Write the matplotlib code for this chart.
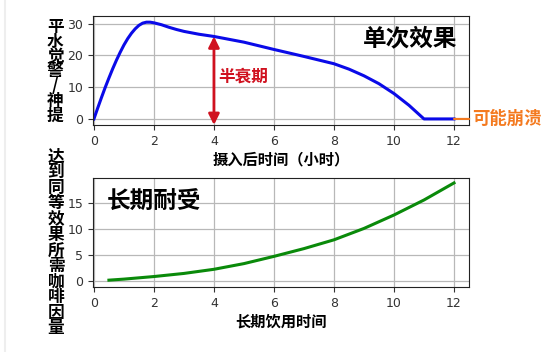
import matplotlib
matplotlib.use("Agg")
import matplotlib.pyplot as plt
from matplotlib.lines import Line2D

plt.rcParams['font.family'] = ['DejaVu Sans', 'Noto Sans CJK SC']
CJK = ['Noto Sans CJK SC', 'DejaVu Sans']

# single dose effect (alertness over time)
hours = [0, 0.125, 0.25, 0.375, 0.5, 0.625, 0.75, 0.875, 1.0, 1.125, 1.25, 1.375,
         1.5, 1.625, 1.75, 1.875, 2.0, 2.25, 2.5, 2.75, 3, 3.5, 4,
         5, 6, 7, 8, 8.5, 9, 9.5, 10, 10.5, 11, 12]
alert = [0, 3.4, 6.7, 9.9, 12.9, 15.8, 18.5, 21.0, 23.3, 25.3, 27.0, 28.4,
         29.5, 30.2, 30.5, 30.5, 30.3, 29.7, 28.9, 28.2, 27.6, 26.7, 26.0,
         24.2, 21.9, 19.7, 17.4, 15.7, 13.6, 11.1, 8.0, 4.3, 0, 0]

# long term tolerance
use_time = [0.5, 1, 2, 3, 4, 5, 6, 7, 8, 9, 10, 11, 12]
dose = [0.1, 0.3, 0.8, 1.4, 2.2, 3.3, 4.7, 6.2, 7.9, 10.1, 12.7, 15.6, 18.9]

half_life_x = 4
half_life_top = 26

red = '#d0111f'
orange = '#f47a1f'

fig = plt.figure(figsize=(5.57, 3.52), dpi=100)
ax1 = fig.add_axes([0.167, 0.645, 0.675, 0.31])
ax2 = fig.add_axes([0.167, 0.185, 0.675, 0.31])

for ax in (ax1, ax2):
    ax.grid(True, color='#b8b8b8', lw=0.9)
    ax.set_axisbelow(True)
    ax.set_xlim(-0.03, 12.5)
    ax.set_xticks([0, 2, 4, 6, 8, 10, 12])
    ax.tick_params(labelsize=9, colors='#333333', length=3.5)
    for s in ax.spines.values():
        s.set_color('#222222')

# top panel
ax1.plot(hours, alert, color='#0a0ae8', lw=2.2)
ax1.set_ylim(-1.9, 32.5)
ax1.set_yticks([0, 10, 20, 30])
ax1.annotate('', xy=(half_life_x, half_life_top), xytext=(half_life_x, -1.9),
             arrowprops=dict(arrowstyle='<|-|>', color=red, lw=2, mutation_scale=16,
                             shrinkA=0, shrinkB=0))
ax1.text(4.15, 13.3, '半衰期', color=red, fontsize=12, fontweight='bold',
         family=CJK, va='center', ha='left')
ax1.text(12.1, 25.5, '单次效果', fontsize=17, fontweight='bold', family=CJK,
         va='center', ha='right')
ax1.annotate('可能崩溃', xy=(12, 0), xytext=(1.008, 0),
             textcoords=('axes fraction', 'data'), color=orange, fontsize=12.5,
             fontweight='bold', family=CJK, va='center', ha='left',
             annotation_clip=False,
             arrowprops=dict(arrowstyle='-', color=orange, lw=1.5, shrinkA=0, shrinkB=0))
ax1.set_xlabel('摄入后时间（小时）', fontsize=11, fontweight='bold', family=CJK, labelpad=3)

# bottom panel
ax2.plot(use_time, dose, color='#0a8a0a', lw=2.2)
ax2.set_ylim(-1.2, 19.9)
ax2.set_yticks([0, 5, 10, 15])
ax2.text(0.43, 15.3, '长期耐受', fontsize=17, fontweight='bold', family=CJK,
         va='center', ha='left')
ax2.set_xlabel('长期饮用时间', fontsize=11, fontweight='bold', family=CJK, labelpad=3)

# stacked vertical y labels
fig.text(0.099, 0.797, '\n'.join('平水觉警/神提'), fontsize=12, fontweight='bold',
         family=CJK, ha='center', va='center', linespacing=0.78)
fig.text(0.1005, 0.311, '\n'.join('达到同等效果所需咖啡因量'), fontsize=12,
         fontweight='bold', family=CJK, ha='center', va='center', linespacing=0.83)

# faint frame line at the left edge
fig.add_artist(Line2D([0.009, 0.009], [0, 1], transform=fig.transFigure,
                      color='#eeeeee', lw=1.5))

fig.savefig('out.png', dpi=100)
